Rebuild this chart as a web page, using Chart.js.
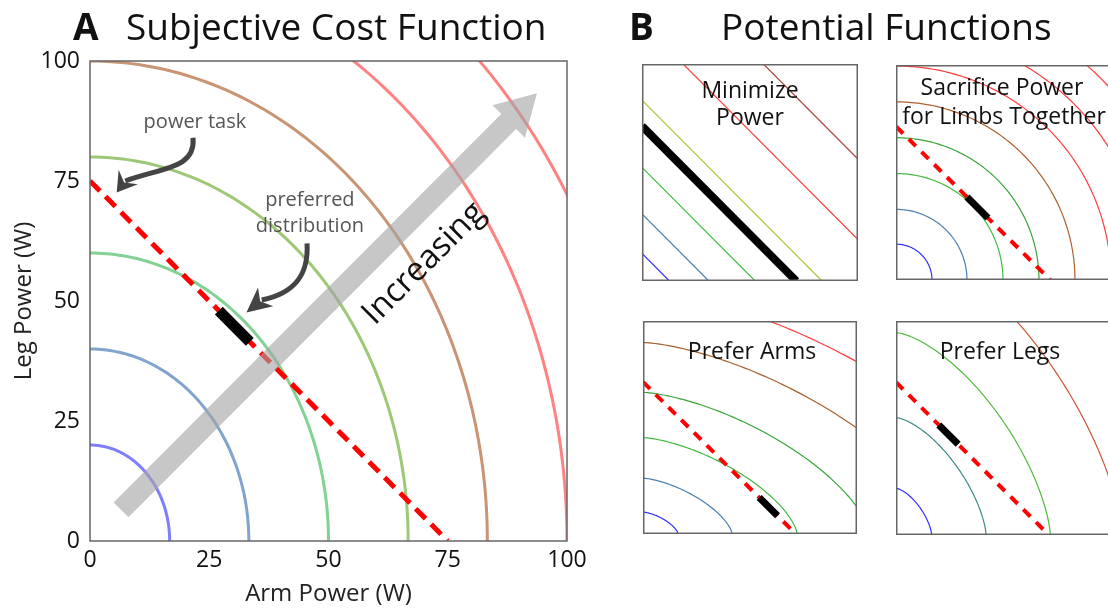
<!DOCTYPE html>
<html>
<head>
<meta charset="utf-8">
<script src="https://cdn.jsdelivr.net/npm/chart.js@4.4.1/dist/chart.umd.min.js"></script>
<style>
  body { margin:0; width:1108px; height:613px; overflow:hidden; background:#fff; position:relative; font-family:"Open Sans", sans-serif; }
  canvas { position:absolute; }
  .head { position:absolute; top:4px; font-size:37px; line-height:44px; color:#111; white-space:nowrap; z-index:2; }
  .head.bold { font-weight:700; }
</style>
</head>
<body>
<div class="head bold" style="left:73px">A</div>
<div class="head" style="left:126px">Subjective Cost Function</div>
<div class="head bold" style="left:629px">B</div>
<div class="head" style="left:721px">Potential Functions</div>

<canvas id="costChart" width="610" height="613" style="left:0;top:0"></canvas>
<canvas id="minPower" width="216" height="217" style="left:642px;top:64px"></canvas>
<canvas id="sacPower" width="216" height="215" style="left:896px;top:65px"></canvas>
<canvas id="prefArms" width="214" height="213" style="left:643px;top:321px"></canvas>
<canvas id="prefLegs" width="214" height="214" style="left:896px;top:321px"></canvas>

<script>
// ---- panel A: subjective cost ----
var tickValues = [0, 25, 50, 75, 100];
// each cost contour, by where it meets the leg axis and the arm axis
var legIntercepts = [20, 40, 60, 80, 100, 120, 140];
var armIntercepts = [16.7, 33.3, 50, 66.7, 83.3, 100, 116.7];
var contourColors = ['rgba(40,40,255,0.6)', 'rgba(60,115,175,0.65)', 'rgba(45,180,75,0.6)',
                     'rgba(105,170,45,0.65)', 'rgba(170,90,40,0.65)', 'rgba(255,45,45,0.6)', 'rgba(255,45,45,0.6)'];
var powerTask = [{x: 0, y: 75}, {x: 75, y: 0}];
var preferred = [{x: 27, y: 48}, {x: 33.5, y: 41.5}];
var trendArrow = [{x: 6.5, y: 6.5}, {x: 93.7, y: 93.3}];
var notes = [
  {text: 'power task', x: 22, y: 87.3},
  {text: 'preferred', x: 46.1, y: 71},
  {text: 'distribution', x: 46.1, y: 65.6}
];
// curved pointers: start, control, control, end of stroke, tip
var pointers = [
  [{x: 21.6, y: 84}, {x: 22.2, y: 77.5}, {x: 15, y: 77.8}, {x: 7.4, y: 75}, {x: 5.6, y: 72.6}],
  [{x: 45.5, y: 62}, {x: 45.9, y: 55}, {x: 42.5, y: 51.5}, {x: 36, y: 50.2}, {x: 32.8, y: 47.6}]
];

var FONT = '"Open Sans", sans-serif';

// quarter of a superellipse (x/a)^p + (y/b)^p = 1, traced in pixel space
function traceContour(ctx, x, y, a, b, p) {
  var steps = 90;
  ctx.beginPath();
  for (var k = 0; k <= steps; k++) {
    var t = (k / steps) * Math.PI / 2;
    var vx = a * Math.pow(Math.cos(t), 2 / p);
    var vy = b * Math.pow(Math.sin(t), 2 / p);
    var X = x.getPixelForValue(vx), Y = y.getPixelForValue(vy);
    if (k === 0) ctx.moveTo(X, Y); else ctx.lineTo(X, Y);
  }
}

function drawArrowHead(ctx, e, t, half) {
  var dx = t.x - e.x, dy = t.y - e.y, len = Math.hypot(dx, dy);
  var ux = dx / len, uy = dy / len, nx = -uy, ny = ux;
  ctx.beginPath();
  ctx.moveTo(t.x, t.y);
  ctx.lineTo(e.x + nx * half - ux * 5, e.y + ny * half - uy * 5);
  ctx.lineTo(e.x + ux * 2, e.y + uy * 2);
  ctx.lineTo(e.x - nx * half - ux * 5, e.y - ny * half - uy * 5);
  ctx.closePath();
  ctx.fill();
}

var costDecor = {
  id: 'costDecor',
  beforeDatasetsDraw: function(chart) {
    var ctx = chart.ctx, area = chart.chartArea, x = chart.scales.x, y = chart.scales.y;
    ctx.save();
    ctx.beginPath();
    ctx.rect(area.left, area.top, area.width, area.height);
    ctx.clip();
    for (var i = 0; i < legIntercepts.length; i++) {
      traceContour(ctx, x, y, armIntercepts[i], legIntercepts[i], 2);
      ctx.strokeStyle = contourColors[i];
      ctx.lineWidth = 3;
      ctx.stroke();
    }
    ctx.restore();
  },
  afterDatasetsDraw: function(chart) {
    var ctx = chart.ctx, area = chart.chartArea, x = chart.scales.x, y = chart.scales.y;
    function px(p) { return {x: x.getPixelForValue(p.x), y: y.getPixelForValue(p.y)}; }
    ctx.save();

    // big grey trend arrow
    var a = px(trendArrow[0]), b = px(trendArrow[1]);
    var dx = b.x - a.x, dy = b.y - a.y, len = Math.hypot(dx, dy);
    var ux = dx / len, uy = dy / len, nx = -uy, ny = ux;
    var hw = 10.5, hh = 23, hl = 40;
    var bx = b.x - ux * hl, by = b.y - uy * hl;
    ctx.beginPath();
    ctx.moveTo(a.x + nx * hw, a.y + ny * hw);
    ctx.lineTo(bx + nx * hw, by + ny * hw);
    ctx.lineTo(bx + nx * hh, by + ny * hh);
    ctx.lineTo(b.x, b.y);
    ctx.lineTo(bx - nx * hh, by - ny * hh);
    ctx.lineTo(bx - nx * hw, by - ny * hw);
    ctx.lineTo(a.x - nx * hw, a.y - ny * hw);
    ctx.closePath();
    ctx.fillStyle = 'rgba(165,165,165,0.62)';
    ctx.fill();

    // label along the arrow
    var lp = px({x: 70, y: 57.8});
    ctx.save();
    ctx.translate(lp.x, lp.y);
    ctx.rotate(-Math.PI / 4);
    ctx.font = '33px ' + FONT;
    ctx.fillStyle = '#111';
    ctx.textAlign = 'center';
    ctx.textBaseline = 'middle';
    ctx.fillText('Increasing', 0, 0);
    ctx.restore();

    // annotations
    ctx.font = '20px ' + FONT;
    ctx.fillStyle = '#555';
    ctx.textAlign = 'center';
    ctx.textBaseline = 'middle';
    notes.forEach(function(n) {
      var p = px(n);
      ctx.fillText(n.text, p.x, p.y);
    });

    ctx.strokeStyle = '#444';
    ctx.fillStyle = '#444';
    ctx.lineWidth = 5;
    pointers.forEach(function(pts) {
      var p = pts.map(px);
      ctx.beginPath();
      ctx.moveTo(p[0].x, p[0].y);
      ctx.bezierCurveTo(p[1].x, p[1].y, p[2].x, p[2].y, p[3].x, p[3].y);
      ctx.stroke();
      drawArrowHead(ctx, p[3], p[4], 12);
    });

    // frame
    ctx.strokeStyle = '#666';
    ctx.lineWidth = 1.5;
    ctx.strokeRect(area.left, area.top, area.width, area.height);
    ctx.restore();
  }
};

new Chart(document.getElementById('costChart'), {
  type: 'scatter',
  data: {
    datasets: [
      {data: preferred, showLine: true, borderColor: '#000', borderWidth: 11, pointRadius: 0},
      {data: powerTask, showLine: true, borderColor: '#ff0000', borderWidth: 5, borderDash: [14, 8], pointRadius: 0}
    ]
  },
  options: {
    responsive: false,
    animation: false,
    events: [],
    layout: {padding: {top: 61, right: 43, left: 0, bottom: 0}},
    plugins: {legend: {display: false}, tooltip: {enabled: false}},
    scales: {
      x: {
        min: 0, max: 100,
        afterBuildTicks: function(s) { s.ticks = tickValues.map(function(v) { return {value: v}; }); },
        afterFit: function(s) { s.height = 72; },
        grid: {display: false, drawTicks: false},
        border: {display: false},
        ticks: {font: {size: 23, family: FONT}, color: '#111', padding: 6},
        title: {display: true, text: 'Arm Power (W)', font: {size: 24, family: FONT}, color: '#222', padding: {top: 0, bottom: 4}}
      },
      y: {
        min: 0, max: 100,
        afterBuildTicks: function(s) { s.ticks = tickValues.map(function(v) { return {value: v}; }); },
        afterFit: function(s) { s.width = 90; },
        grid: {display: false, drawTicks: false},
        border: {display: false},
        ticks: {font: {size: 23, family: FONT}, color: '#111', padding: 10},
        title: {display: true, text: 'Leg Power (W)', font: {size: 24, family: FONT}, color: '#222', padding: {top: 10, bottom: 0}}
      }
    }
  },
  plugins: [costDecor]
});

// ---- panel B: candidate potential functions ----
// Minimize Power: lines of equal total power (arm + leg = level)
var minLevels = [13.3, 32.5, 55, 87.5, 125, 164];
var minColors = ['#3030ff', '#4a7fb0', '#40c040', '#a8c83a', '#ff3c3c', '#b03a3a'];
// Sacrifice Power for Limbs Together: circles
var sacRadii = [17.5, 34.5, 52, 69.5, 87, 104.5, 122, 140];
var sacColors = ['#3030ff', '#4a7fb0', '#44bb44', '#3aa53a', '#b0602e', '#ff3c3c', '#ff3c3c', '#ff3c3c'];
// Prefer Arms: contours stretched along the arm axis (exponent 1.5)
var armsArmAxis = [17.2, 43.7, 75.6, 111.2, 149.3, 191];
var armsLegAxis = [10.8, 27.5, 47.5, 69.8, 94.4, 120.3];
var armsColors = ['#3030ff', '#4a7fb0', '#44bb44', '#3aa53a', '#a8602e', '#ff3c3c'];
// Prefer Legs: contours stretched along the leg axis (exponent 1.5)
var legsArmAxis = [17.5, 44.2, 75.7, 110.9];
var legsLegAxis = [22.9, 57.6, 99.3, 145.9];
var legsColors = ['#3030ff', '#3c8a8a', '#50bb3a', '#cc5533'];
// preferred split on the task line
var minPreferred = [{x: 0, y: 75}, {x: 75, y: 0}];
var sacPreferred = [{x: 34.5, y: 40.5}, {x: 44.7, y: 30.3}];
var armsPreferred = [{x: 57, y: 18}, {x: 66, y: 9}];
var legsPreferred = [{x: 21, y: 54}, {x: 30.5, y: 44.5}];

function panelPlugin(contours, labels) {
  return {
    id: 'panelDecor',
    beforeDatasetsDraw: function(chart) {
      var ctx = chart.ctx, x = chart.scales.x, y = chart.scales.y;
      ctx.save();
      contours.forEach(function(c) {
        traceContour(ctx, x, y, c.a, c.b, c.p);
        ctx.strokeStyle = c.color;
        ctx.lineWidth = 1.2;
        ctx.stroke();
      });
      ctx.restore();
    },
    afterDraw: function(chart) {
      var ctx = chart.ctx, area = chart.chartArea;
      ctx.save();
      ctx.font = '23px ' + FONT;
      ctx.fillStyle = '#111';
      ctx.textAlign = 'center';
      ctx.textBaseline = 'middle';
      labels.forEach(function(l) { ctx.fillText(l.text, l.x, l.y); });
      ctx.strokeStyle = '#666';
      ctx.lineWidth = 1.5;
      ctx.strokeRect(area.left + 0.75, area.top + 0.75, area.width - 1.5, area.height - 1.5);
      ctx.restore();
    }
  };
}

function taskSets(best, bestWidth) {
  return [
    {data: best, showLine: true, borderColor: '#000', borderWidth: bestWidth, pointRadius: 0},
    {data: powerTask, showLine: true, borderColor: '#ff0000', borderWidth: 4, borderDash: [10, 8], pointRadius: 0}
  ];
}

function smallPanel(id, datasets, contours, labels) {
  return new Chart(document.getElementById(id), {
    type: 'scatter',
    data: {datasets: datasets},
    options: {
      responsive: false,
      animation: false,
      events: [],
      layout: {padding: 0},
      plugins: {legend: {display: false}, tooltip: {enabled: false}},
      scales: {
        x: {display: false, min: 0, max: 105},
        y: {display: false, min: 0, max: 105}
      }
    },
    plugins: [panelPlugin(contours, labels)]
  });
}

var minSets = taskSets(minPreferred, 8).concat(minLevels.map(function(c, i) {
  return {data: [{x: 0, y: c}, {x: c, y: 0}], showLine: true, borderColor: minColors[i], borderWidth: 1.2, pointRadius: 0};
}));
smallPanel('minPower', minSets, [], [
  {text: 'Minimize', x: 108, y: 27},
  {text: 'Power', x: 108, y: 54}
]);

smallPanel('sacPower', taskSets(sacPreferred, 7),
  sacRadii.map(function(r, i) { return {a: r, b: r, p: 2, color: sacColors[i]}; }), [
  {text: 'Sacrifice Power', x: 106, y: 23},
  {text: 'for Limbs Together', x: 108, y: 52}
]);

smallPanel('prefArms', taskSets(armsPreferred, 7),
  armsArmAxis.map(function(a, i) { return {a: a, b: armsLegAxis[i], p: 1.5, color: armsColors[i]}; }), [
  {text: 'Prefer Arms', x: 109, y: 31}
]);

smallPanel('prefLegs', taskSets(legsPreferred, 7),
  legsArmAxis.map(function(a, i) { return {a: a, b: legsLegAxis[i], p: 1.5, color: legsColors[i]}; }), [
  {text: 'Prefer Legs', x: 104, y: 31}
]);
</script>
</body>
</html>
